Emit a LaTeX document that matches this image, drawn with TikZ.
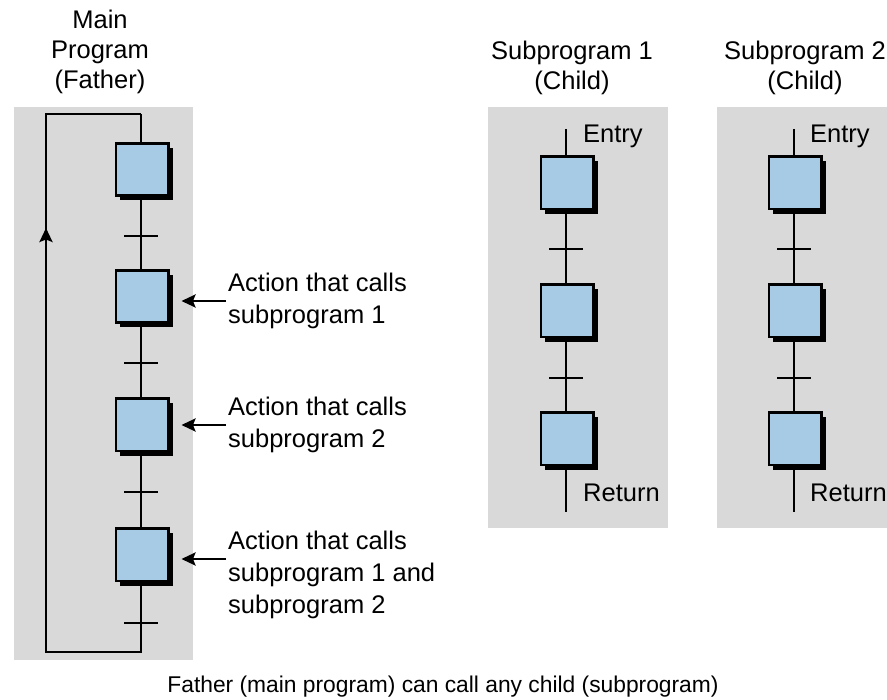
\documentclass[tikz,border=0pt]{standalone}
\usepackage{fontspec}
\setmainfont{Liberation Sans}
\usetikzlibrary{shadows,arrows.meta}
\definecolor{panelgray}{RGB}{217,217,217}
\definecolor{stepblue}{RGB}{168,203,229}
\begin{document}
\begin{tikzpicture}[x=1pt,y=-1pt,
  panel/.style={fill=panelgray, draw=none},
  stepbox/.style={draw=black, line width=2.7pt, fill=stepblue, minimum size=52.3pt, inner sep=0pt,
    drop shadow={shadow xshift=4.5pt, shadow yshift=-4.5pt, fill=black, opacity=1}},
  wire/.style={line width=2.5pt},
  trans/.style={line width=2.5pt},
  lbl/.style={font=\fontsize{25.5}{32}\selectfont, inner sep=0pt},
  ttl/.style={font=\fontsize{25.5}{30}\selectfont, inner sep=0pt},
  capt/.style={font=\fontsize{22.8}{27}\selectfont, inner sep=0pt},
  arr/.style={wire, -{Stealth[length=14pt,width=13pt,inset=2.5pt]}}
]
\useasboundingbox (0,0) rectangle (887,700);
% panels
\fill[panel] (14,107) rectangle (193,660);
\fill[panel] (488,107) rectangle (668,528);
\fill[panel] (717,107) rectangle (887,528);

% ---------- main program ----------
\coordinate (lt) at (141,114);
\coordinate (ltl) at (46,114);
\coordinate (lbl) at (46,652);
\coordinate (lb) at (141,652);
\coordinate (la) at (46,228);
\node[stepbox] (m1) at (142,169.5) {};
\node[stepbox] (m2) at (142,296.5) {};
\node[stepbox] (m3) at (142,425) {};
\node[stepbox] (m4) at (142,555) {};
\coordinate (mt1) at (141,236);
\coordinate (mt2) at (141,363);
\coordinate (mt3) at (141,492);
\coordinate (mt4) at (141,623);
\draw[wire] (lt) -- (lt |- m1.north);
\draw[wire] (lt |- m1.south) -- (lt |- m2.north);
\draw[wire] (lt |- m2.south) -- (lt |- m3.north);
\draw[wire] (lt |- m3.south) -- (lt |- m4.north);
\draw[wire, line join=miter] (lt |- m4.south) -- (lb) -- (lbl) -- (ltl) -- (lt);
\draw[arr] (lbl) -- (la);
\foreach \t in {mt1,mt2,mt3,mt4}
  \draw[trans] ([xshift=-17pt]\t) -- ([xshift=17pt]\t);

% call arrows and texts
\coordinate (a1) at (226,301);
\coordinate (a2) at (226,425);
\coordinate (a3) at (226,559);
\draw[arr, shorten >=12pt] (a1) -- (a1 -| m2.east);
\draw[arr, shorten >=12pt] (a2) -- (a2 -| m3.east);
\draw[arr, shorten >=12pt] (a3) -- (a3 -| m4.east);
\node[lbl, align=left, anchor=north west] (c1) at (228,272.5) {Action that calls\\subprogram 1};
\node[lbl, align=left, anchor=north west] (c2) at (228,396.5) {Action that calls\\subprogram 2};
\node[lbl, align=left, anchor=north west] (c3) at (228,530.5) {Action that calls\\subprogram 1 and\\subprogram 2};

% titles
\node[ttl, align=center, anchor=north] (tmain) at (100,9.5) {Main\\Program\\(Father)};
\node[ttl, align=center, anchor=north] (ts1) at (572,41) {Subprogram 1\\(Child)};
\node[ttl, align=center, anchor=north] (ts2) at (805,41) {Subprogram 2\\(Child)};

% ---------- subprogram 1 ----------
\coordinate (s1top) at (566,129);
\coordinate (s1bot) at (566,512);
\node[stepbox] (s1a) at (567,183) {};
\node[stepbox] (s1b) at (567,311) {};
\node[stepbox] (s1c) at (567,439) {};
\coordinate (s1t1) at (566,249);
\coordinate (s1t2) at (566,378);
\draw[wire] (s1top) -- (s1top |- s1a.north);
\draw[wire] (s1top |- s1a.south) -- (s1top |- s1b.north);
\draw[wire] (s1top |- s1b.south) -- (s1top |- s1c.north);
\draw[wire] (s1top |- s1c.south) -- (s1bot);
\foreach \t in {s1t1,s1t2}
  \draw[trans] ([xshift=-17pt]\t) -- ([xshift=17pt]\t);
\node[lbl, anchor=base west] (e1) at (583,143) {Entry};
\node[lbl, anchor=base west] (r1) at (583,502) {Return};

% ---------- subprogram 2 ----------
\coordinate (s2top) at (794,129);
\coordinate (s2bot) at (794,512);
\node[stepbox] (s2a) at (795,183) {};
\node[stepbox] (s2b) at (795,311) {};
\node[stepbox] (s2c) at (795,439) {};
\coordinate (s2t1) at (794,249);
\coordinate (s2t2) at (794,378);
\draw[wire] (s2top) -- (s2top |- s2a.north);
\draw[wire] (s2top |- s2a.south) -- (s2top |- s2b.north);
\draw[wire] (s2top |- s2b.south) -- (s2top |- s2c.north);
\draw[wire] (s2top |- s2c.south) -- (s2bot);
\foreach \t in {s2t1,s2t2}
  \draw[trans] ([xshift=-17pt]\t) -- ([xshift=17pt]\t);
\node[lbl, anchor=base west] (e2) at (810,143) {Entry};
\node[lbl, anchor=base west] (r2) at (810,502) {Return};

% caption
\node[capt, anchor=base] (cap) at (443,692) {Father (main program) can call any child (subprogram)};
\end{tikzpicture}
\end{document}
